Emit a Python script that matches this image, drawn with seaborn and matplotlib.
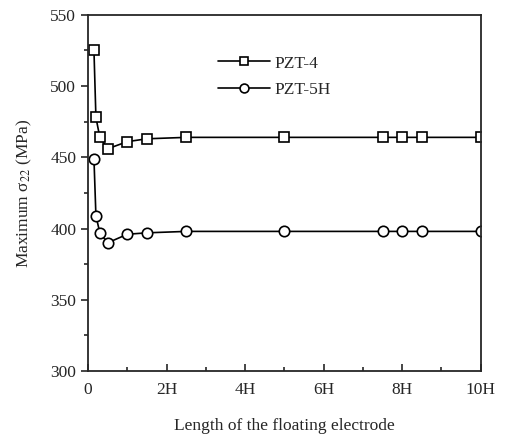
import matplotlib
matplotlib.use("Agg")
import matplotlib.pyplot as plt
import seaborn as sns
import pandas as pd
from matplotlib.ticker import MultipleLocator

length = [0.15, 0.2, 0.3, 0.5, 1.0, 1.5, 2.5, 5.0, 7.5, 8.0, 8.5, 10.0]
pzt4 = [525, 478, 464, 456, 461, 463, 464, 464, 464, 464, 464, 464]
pzt5h = [449, 409, 397, 390, 396, 397, 398, 398, 398, 398, 398, 398]
xticks = [0, 2, 4, 6, 8, 10]
xticklabels = ["0", "2H", "4H", "6H", "8H", "10H"]

sns.set_style("ticks")
plt.rcParams['font.family'] = ['Liberation Serif', 'DejaVu Serif']
plt.rcParams['mathtext.fontset'] = 'stix'

fig = plt.figure(figsize=(5.12, 4.36), dpi=100)
ax = fig.add_axes([0.172, 0.149, 0.767, 0.817])

df4 = pd.DataFrame({"x": length, "y": pzt4})
df5 = pd.DataFrame({"x": length, "y": pzt5h})
sns.lineplot(data=df4, x="x", y="y", ax=ax, color="black", lw=1.2, marker="s",
             markersize=7.5, markerfacecolor="white", markeredgecolor="black",
             markeredgewidth=1.2, label="PZT-4")
sns.lineplot(data=df5, x="x", y="y", ax=ax, color="black", lw=1.2, marker="o",
             markersize=7.5, markerfacecolor="white", markeredgecolor="black",
             markeredgewidth=1.2, label="PZT-5H")

ax.set_xlim(0, 10)
ax.set_ylim(300, 550)
ax.set_xticks(xticks)
ax.set_xticklabels(xticklabels)
ax.xaxis.set_minor_locator(MultipleLocator(1))
ax.yaxis.set_major_locator(MultipleLocator(50))
ax.yaxis.set_minor_locator(MultipleLocator(25))
ax.tick_params(axis='x', which='both', direction='in', top=False, labelsize=12.5, width=1.2, pad=8)
ax.tick_params(axis='y', which='both', direction='out', labelsize=12.5, width=1.2)
ax.tick_params(which='major', length=5)
ax.tick_params(which='minor', length=3)
for s in ax.spines.values():
    s.set_linewidth(1.3)
    s.set_visible(True)
ax.set_xlabel("Length of the floating electrode", fontsize=12.5, labelpad=14)
ax.set_ylabel("Maximum σ$_{22}$ (MPa)", fontsize=12.5, labelpad=12)

leg = ax.legend(loc="upper left", bbox_to_anchor=(0.29, 0.93), frameon=False,
                fontsize=12.5, handlelength=3.0, handletextpad=0.3,
                labelspacing=0.6, markerscale=0.85)

fig.savefig("out.png", dpi=100)
